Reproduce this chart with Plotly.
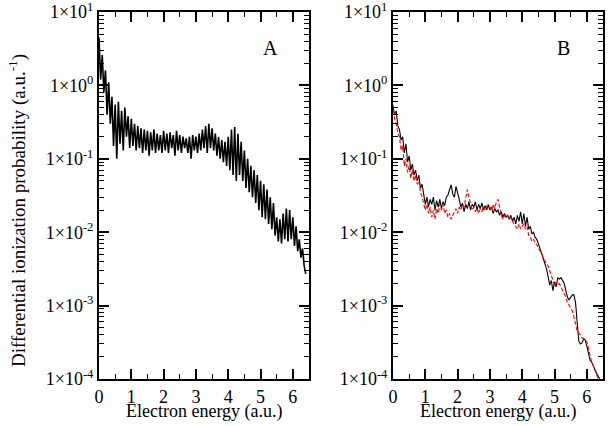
import plotly.graph_objects as go

# Panel A: x from 0 to 6.4, step 0.05
xa = [round(i * 0.05, 2) for i in range(129)]
ya = [4.5, 1.2, 2.6, 0.8, 1.6, 0.4, 1.1, 0.3, 0.7, 0.15,
      0.55, 0.1, 0.6, 0.16, 0.45, 0.13, 0.5, 0.2, 0.38, 0.14,
      0.35, 0.15, 0.3, 0.13, 0.28, 0.14, 0.26, 0.12, 0.25, 0.13,
      0.24, 0.11, 0.23, 0.13, 0.25, 0.12, 0.22, 0.13, 0.21, 0.12,
      0.24, 0.13, 0.22, 0.12, 0.23, 0.14, 0.21, 0.11, 0.24, 0.13,
      0.21, 0.12, 0.2, 0.14, 0.19, 0.12, 0.2, 0.1, 0.21, 0.13,
      0.2, 0.12, 0.22, 0.13, 0.25, 0.14, 0.28, 0.12, 0.3, 0.14,
      0.26, 0.13, 0.22, 0.11, 0.2, 0.1, 0.18, 0.09, 0.17, 0.08,
      0.2, 0.07, 0.25, 0.06, 0.27, 0.05, 0.22, 0.06, 0.17, 0.05,
      0.13, 0.04, 0.1, 0.035, 0.08, 0.03, 0.07, 0.025, 0.06, 0.02,
      0.05, 0.016, 0.045, 0.015, 0.038, 0.013, 0.03, 0.011, 0.025, 0.009,
      0.016, 0.0075, 0.015, 0.007, 0.018, 0.008, 0.021, 0.0075, 0.02, 0.008,
      0.016, 0.0065, 0.012, 0.0055, 0.008, 0.0045, 0.006, 0.0035,
      0.0027]

# Panel B: black (solid) x 0..6.4, red (dashed) x 0..6.35
xb_black = [round(i * 0.05, 2) for i in range(129)]
yb_black = [0.5, 0.4, 0.45, 0.28, 0.25, 0.18, 0.2, 0.12, 0.16, 0.09,
            0.11, 0.07, 0.085, 0.06, 0.07, 0.05, 0.06, 0.04, 0.045, 0.03,
            0.024, 0.03, 0.022, 0.028, 0.024, 0.03, 0.02, 0.027, 0.022, 0.028,
            0.021, 0.026, 0.023, 0.03, 0.032, 0.038, 0.044, 0.033, 0.03, 0.042,
            0.035, 0.028, 0.022, 0.025, 0.019, 0.024, 0.021, 0.026, 0.02, 0.024,
            0.022, 0.026, 0.02, 0.024, 0.021, 0.025, 0.02, 0.023, 0.02, 0.024,
            0.02, 0.022, 0.018, 0.021, 0.019, 0.02, 0.017, 0.019, 0.016, 0.018,
            0.016, 0.017, 0.015, 0.017, 0.014, 0.016, 0.013, 0.017, 0.014, 0.019,
            0.013, 0.018, 0.012, 0.016, 0.011, 0.012, 0.0095, 0.01, 0.0085, 0.008,
            0.007, 0.006, 0.0052, 0.0045, 0.0038, 0.0032, 0.0025, 0.0019, 0.0022, 0.0016,
            0.0021, 0.0018, 0.0024, 0.0023, 0.0024, 0.0022, 0.002, 0.0016, 0.0013, 0.0012,
            0.0013, 0.0014, 0.0014, 0.0011, 0.0006, 0.00033, 0.0003, 0.00031, 0.00035, 0.00034,
            0.00028, 0.00022, 0.00018, 0.00017, 0.00015, 0.00013, 0.00012, 0.00011,
            0.0001]
xb_red = [round(i * 0.05, 2) for i in range(128)]
yb_red = [0.55, 0.35, 0.3, 0.22, 0.2, 0.13, 0.15, 0.08, 0.1, 0.065,
          0.08, 0.055, 0.07, 0.05, 0.06, 0.045, 0.05, 0.035, 0.03, 0.025,
          0.02, 0.024, 0.018, 0.022, 0.016, 0.02, 0.015, 0.021, 0.018, 0.024,
          0.02, 0.024, 0.018, 0.02, 0.016, 0.018, 0.015, 0.017, 0.019, 0.021,
          0.018, 0.022, 0.02, 0.024, 0.022, 0.03, 0.038, 0.03, 0.024, 0.02,
          0.022, 0.019, 0.021, 0.018, 0.021, 0.019, 0.022, 0.02, 0.023, 0.021,
          0.022, 0.02, 0.024, 0.021, 0.026, 0.028, 0.022, 0.017, 0.015, 0.017,
          0.016, 0.017, 0.015, 0.016, 0.014, 0.013, 0.012, 0.011, 0.013, 0.011,
          0.012, 0.013, 0.011, 0.012, 0.009, 0.0085, 0.0075, 0.008, 0.007, 0.0068,
          0.006, 0.0055, 0.0052, 0.0045, 0.004, 0.0037, 0.0035, 0.003, 0.0026, 0.0022,
          0.0019, 0.0021, 0.0019, 0.002, 0.0018, 0.0016, 0.0014, 0.0013, 0.0011, 0.001,
          0.00095, 0.00085, 0.0007, 0.00055, 0.00045, 0.00042, 0.0004, 0.00036, 0.00036, 0.00034,
          0.00032, 0.00026, 0.0002, 0.00017, 0.00015, 0.00013, 0.00011, 0.0001]

ytick_vals = [1e-4, 1e-3, 1e-2, 1e-1, 1e0, 1e1]
ytick_text = ["1×10<sup>-4</sup>", "1×10<sup>-3</sup>", "1×10<sup>-2</sup>",
              "1×10<sup>-1</sup>", "1×10<sup>0</sup>", "1×10<sup>1</sup>"]
xtick_vals = [0, 1, 2, 3, 4, 5, 6]

FONT = "Liberation Serif"
minor_y = [m * 10 ** e for e in range(-4, 1) for m in range(2, 10)]

fig = go.Figure()
fig.add_trace(go.Scatter(x=xa, y=ya, mode="lines", line=dict(color="black", width=1.6),
                         xaxis="x", yaxis="y", showlegend=False))
fig.add_trace(go.Scatter(x=xb_black, y=yb_black, mode="lines", line=dict(color="black", width=1.1),
                         xaxis="x2", yaxis="y2", showlegend=False))
fig.add_trace(go.Scatter(x=xb_red, y=yb_red, mode="lines",
                         line=dict(color="red", width=1.1, dash="4px,2px"),
                         xaxis="x2", yaxis="y2", showlegend=False))

xcommon = dict(range=[0, 6.5], tickvals=xtick_vals, ticks="inside", ticklen=10, tickwidth=1.5,
               tickcolor="black", automargin=False, ticklabeloverflow="allow",
               showline=True, linecolor="black", linewidth=2, mirror="ticks",
               showgrid=False, zeroline=False,
               tickfont=dict(family=FONT, size=18, color="black"),
               minor=dict(dtick=0.5, ticks="inside", ticklen=5, tickwidth=1.2,
                          tickcolor="black", showgrid=False))
ycommon = dict(type="log", range=[-4, 1], tickvals=ytick_vals, ticktext=ytick_text,
               ticks="inside", ticklen=10, tickwidth=1.5, tickcolor="black", automargin=False,
               ticklabeloverflow="allow",
               showline=True, linecolor="black", linewidth=2, mirror="ticks",
               showgrid=False, zeroline=False,
               tickfont=dict(family=FONT, size=18, color="black"),
               minor=dict(tickvals=minor_y, ticks="inside", ticklen=5, tickwidth=1.2,
                          tickcolor="black", showgrid=False))

ann = dict(xref="paper", yref="paper", showarrow=False, xanchor="center", yanchor="middle")

fig.update_layout(
    width=612, height=426,
    margin=dict(l=0, r=0, t=0, b=0, pad=0),
    paper_bgcolor="white", plot_bgcolor="white",
    font=dict(family=FONT, color="black"),
    xaxis=dict(domain=[99 / 612, 309 / 612], anchor="y", **xcommon),
    yaxis=dict(domain=[1 - 379 / 426, 1 - 12 / 426], anchor="x", **ycommon),
    xaxis2=dict(domain=[393 / 612, 603 / 612], anchor="y2", **xcommon),
    yaxis2=dict(domain=[1 - 379 / 426, 1 - 12 / 426], anchor="x2", **ycommon),
    annotations=[
        dict(text="Differential ionization probability (a.u.<sup>-1</sup>)", textangle=-90,
             x=18 / 612, y=1 - 211 / 426, font=dict(family=FONT, size=19, color="black"), **ann),
        dict(text="Electron energy (a.u.)", x=204 / 612, y=1 - 411 / 426,
             font=dict(family=FONT, size=18, color="black"), **ann),
        dict(text="Electron energy (a.u.)", x=498 / 612, y=1 - 411 / 426,
             font=dict(family=FONT, size=18, color="black"), **ann),
        dict(text="A", x=270 / 612, y=1 - 48 / 426, font=dict(family=FONT, size=20, color="black"), **ann),
        dict(text="B", x=563 / 612, y=1 - 48 / 426, font=dict(family=FONT, size=20, color="black"), **ann),
    ],
)

fig.write_html("out.html", config={"displayModeBar": False},
               post_script="document.body.style.margin='0px';document.body.style.overflow='hidden';")
